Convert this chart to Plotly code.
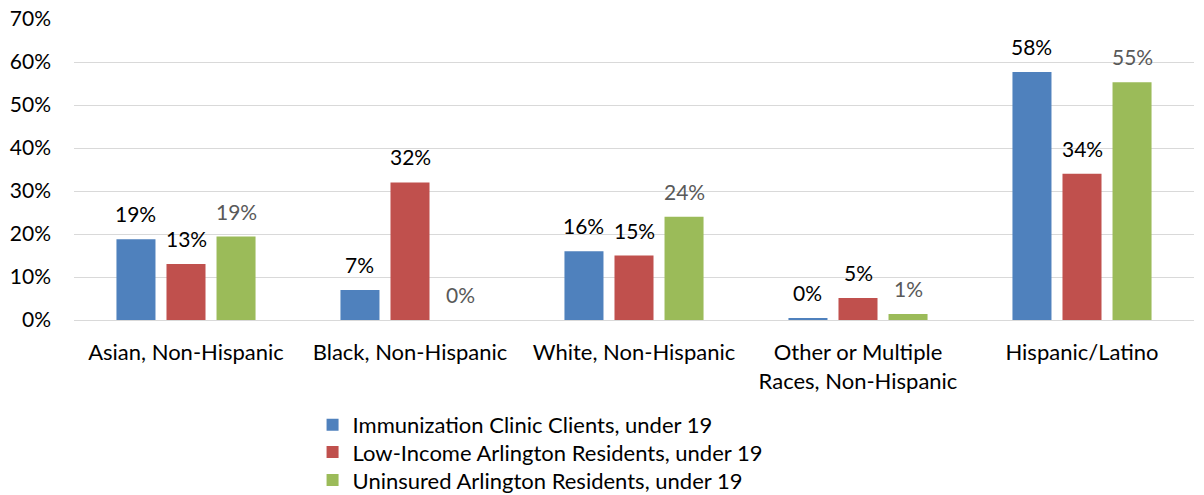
import plotly.graph_objects as go

categories = ["Asian, Non-Hispanic", "Black, Non-Hispanic", "White, Non-Hispanic",
              "Other or Multiple<br>Races, Non-Hispanic", "Hispanic/Latino"]
series_names = ["Immunization Clinic Clients, under 19",
                "Low-Income Arlington Residents, under 19",
                "Uninsured Arlington Residents, under 19"]
clinic = [18.8, 7.0, 16.0, 0.4, 57.7]
low_income = [13.0, 32.0, 15.0, 5.1, 34.0]
uninsured = [19.4, 0.0, 24.0, 1.4, 55.3]
y_ticks = [0, 10, 20, 30, 40, 50, 60, 70]
y_tick_labels = [f"{v}%" for v in y_ticks]

colors = ["#4F81BD", "#C0504D", "#9BBB59"]
text_colors = ["#000000", "#000000", "#595959"]
FONT = "Lato"
BARGAP = 0.33
BARGROUPGAP = 0.22
legend_ids = ["legend", "legend2", "legend3"]
legend_y = [-0.349, -0.439, -0.532]

fig = go.Figure()
all_series = [clinic, low_income, uninsured]
for name, vals, c, lg in zip(series_names, all_series, colors, legend_ids):
    fig.add_trace(go.Bar(
        x=list(range(len(categories))), y=vals, name=name,
        marker=dict(color=c, line=dict(width=0)), legend=lg,
    ))

# data labels above each bar, positioned through the axis scales
slot = (1 - BARGAP) / len(all_series)
for i, (vals, tc) in enumerate(zip(all_series, text_colors)):
    for j, v in enumerate(vals):
        fig.add_annotation(
            x=j + (i - 1) * slot, y=v, xref="x", yref="y",
            text=f"{v:.0f}%", showarrow=False, yanchor="bottom", yshift=11,
            font=dict(color=tc, size=21, family=FONT),
        )

legend_common = dict(orientation="v", x=0.213, xanchor="left", yanchor="middle",
                     font=dict(size=22, family=FONT), itemwidth=30,
                     bgcolor="rgba(0,0,0,0)")
fig.update_layout(
    width=1204, height=495,
    margin=dict(l=74, r=10, t=19, b=175, autoexpand=False),
    paper_bgcolor="white", plot_bgcolor="white",
    barmode="group", bargap=BARGAP, bargroupgap=BARGROUPGAP,
    font=dict(family=FONT, size=21, color="#000000"),
    showlegend=True,
    legend=dict(y=legend_y[0], **legend_common),
    legend2=dict(y=legend_y[1], **legend_common),
    legend3=dict(y=legend_y[2], **legend_common),
)
fig.update_yaxes(range=[0, 70.02], tickvals=y_ticks, ticktext=y_tick_labels,
                 gridcolor="#D9D9D9", gridwidth=1.3, zeroline=True, zerolinecolor="#D9D9D9",
                 zerolinewidth=1.3, showline=False, ticks="", automargin=False,
                 ticklabeloverflow="allow",
                 ticklabelstandoff=22, tickfont=dict(size=21, family=FONT))
fig.update_xaxes(tickvals=list(range(len(categories))), ticktext=categories,
                 range=[-0.5, len(categories) - 0.5],
                 showline=False, ticks="", automargin=False, ticklabelstandoff=17,
                 tickfont=dict(size=22, family=FONT))

fig.write_html("out.html", config={"displayModeBar": False},
               post_script="document.body.style.margin='0';")
